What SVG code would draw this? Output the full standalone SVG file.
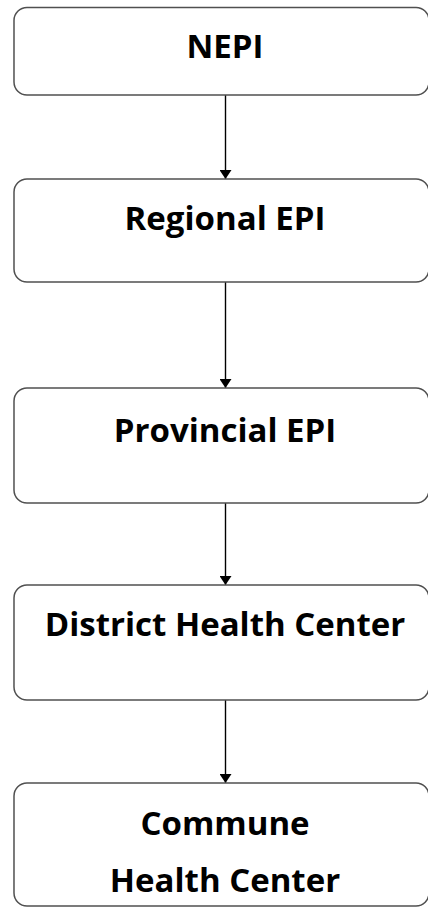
<svg xmlns="http://www.w3.org/2000/svg" width="428" height="907" viewBox="0 0 428 907">
<style>
.box{fill:#fff;stroke:#505050;stroke-width:1.5}
.t{font-family:"Open Sans","Liberation Sans",sans-serif;font-weight:bold;font-size:33px;fill:#000;text-anchor:middle}
.c{stroke:#000;stroke-width:1.4;fill:none;marker-end:url(#ah)}
</style>
<defs>
<marker id="ah" markerUnits="userSpaceOnUse" markerWidth="9" markerHeight="12" refX="9" refY="6" orient="auto" viewBox="0 0 9 12">
<path d="M0,0 L9,6 L0,12 z" fill="#000"/>
</marker>
</defs>
<rect width="428" height="907" fill="#fff"/>
<g id="connectors">
<line class="c" x1="225.5" y1="95" x2="225.5" y2="179"/>
<line class="c" x1="225.5" y1="282" x2="225.5" y2="388"/>
<line class="c" x1="225.5" y1="503" x2="225.5" y2="585"/>
<line class="c" x1="225.5" y1="700" x2="225.5" y2="783"/>
</g>
<g id="nepi"><rect class="box" x="14" y="7.5" width="415" height="87.5" rx="13"/><text class="t" x="225" y="58">NEPI</text></g>
<g id="regional"><rect class="box" x="14" y="179" width="415" height="103" rx="13"/><text class="t" x="225" y="230">Regional EPI</text></g>
<g id="provincial"><rect class="box" x="14" y="388" width="415" height="115" rx="13"/><text class="t" x="225" y="442">Provincial EPI</text></g>
<g id="district"><rect class="box" x="14" y="585" width="415" height="115" rx="13"/><text class="t" x="225" y="636">District Health Center</text></g>
<g id="commune"><rect class="box" x="14" y="783" width="415" height="123" rx="13"/><text class="t" x="225" y="835">Commune</text><text class="t" x="225" y="892">Health Center</text></g>
</svg>
